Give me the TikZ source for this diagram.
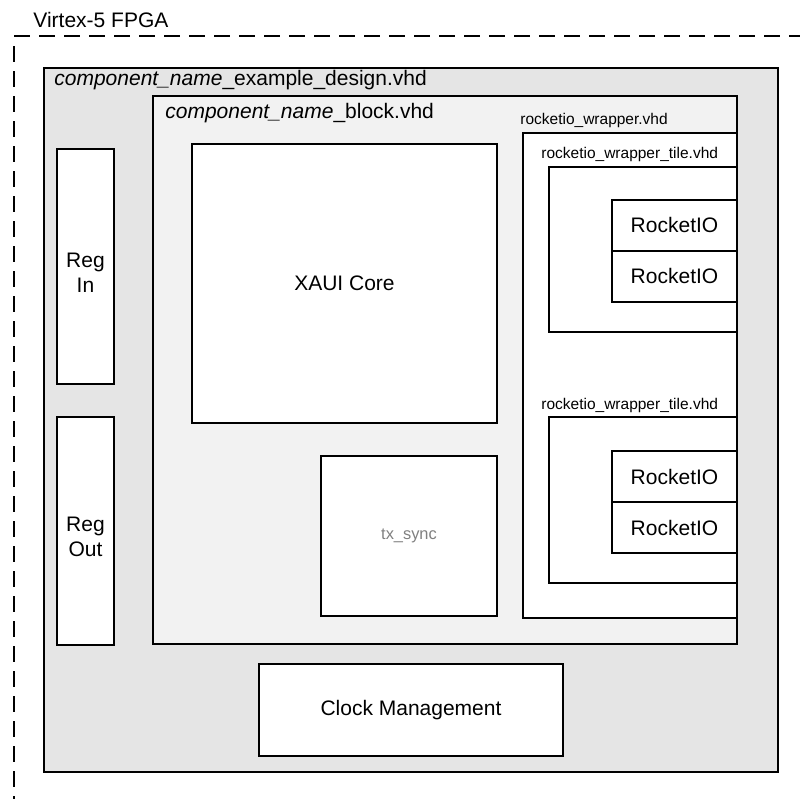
\documentclass[tikz,border=0pt]{standalone}
\usepackage{fontspec}
\setmainfont{Liberation Sans}
\usetikzlibrary{positioning}
\tikzset{
  xlxbox/.style={rectangle, draw=black, line width=1.1pt, fill=white,
                 inner sep=0pt, outer sep=0pt, align=center,
                 font=\fontsize{10.5}{12.5}\selectfont},
  xlxfile/.style={xlxbox, fill=black!10},
  xlxblock/.style={xlxbox, fill=black!5},
  xlxreg/.style={xlxbox, minimum width=28.5pt, text height=25.6pt},
  xlxrio/.style={xlxbox, minimum width=62.5pt, minimum height=25.5pt},
  xlxtitle/.style={inner sep=0pt, anchor=base west, font=\fontsize{10.5}{12.5}\selectfont},
  xlxsmall/.style={inner sep=0pt, anchor=base west, font=\fontsize{7.75}{9}\selectfont},
  xlxframe/.style={draw=black, line width=1pt, dash pattern=on 8pt off 4.5pt},
}

\begin{document}
\begin{tikzpicture}[x=0.5pt, y=-0.5pt]
  \useasboundingbox[fill=white] (0,0) rectangle (800,799);

  % FPGA
  \node[xlxtitle] (fpga) at (33,27) {Virtex-5 FPGA};
  \draw[xlxframe] (14,36) -- (800,36);
  \draw[xlxframe] (14,46) -- (14,799);

  % example design
  \node[xlxfile, minimum width=367pt, minimum height=352pt] (expl) at (411,420) {};
  \node[xlxtitle] (expltitle) at (54,85)
    {\textit{component\_name}\_example\_design.vhd};

  \node[xlxreg, minimum height=117.5pt] (regin) at (85.5,266.5) {Reg\\In};
  \node[xlxreg, minimum height=114pt] (regout) at (85.5,531) {Reg\\Out};
  \node[xlxbox, minimum width=152pt, minimum height=46pt] (clk) at (411,710) {Clock Management};

  % block
  \node[xlxblock, minimum width=292pt, minimum height=274pt] (blk) at (445,370) {};
  \node[xlxtitle] (blktitle) at (165,118) {\textit{component\_name}\_block.vhd};

  \node[xlxbox, minimum width=152.5pt, minimum height=139.5pt] (xaui) at (344.5,283.5) {XAUI Core};
  \node[xlxbox, minimum width=88pt, minimum height=80pt,
        font=\fontsize{8.2}{9.8}\selectfont, text=black!50] (txsync) at (409,536) {tx\_sync};

  % rocketio wrapper
  \node[xlxsmall] (wraptitle) at (520,124) {rocketio\_wrapper.vhd};
  \node[xlxbox, minimum width=107pt, minimum height=242.5pt] (wrap) at (630,375.5) {};

  \node[xlxsmall] (tileAtitle) at (541,158) {rocketio\_wrapper\_tile.vhd};
  \node[xlxbox, minimum width=94pt, minimum height=82.5pt] (tileA) at (643,249.5) {};
  \node[xlxrio] (rioA1) at (674.5,225.25) {RocketIO};
  \node[xlxrio, below=0pt of rioA1] (rioA2) {RocketIO};

  \node[xlxsmall] (tileBtitle) at (541,409) {rocketio\_wrapper\_tile.vhd};
  \node[xlxbox, minimum width=94pt, minimum height=83pt] (tileB) at (643,500) {};
  \node[xlxrio] (rioB1) at (674.5,476.75) {RocketIO};
  \node[xlxrio, below=0pt of rioB1] (rioB2) {RocketIO};
\end{tikzpicture}
\end{document}
